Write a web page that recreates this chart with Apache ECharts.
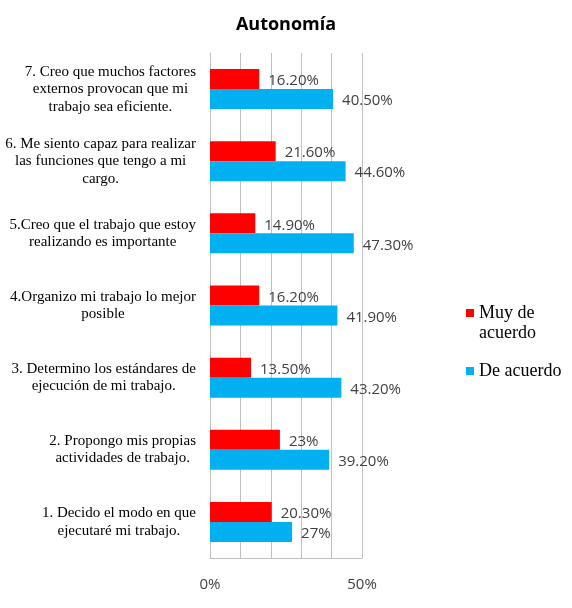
<!DOCTYPE html>
<html>
<head>
<meta charset="utf-8">
<title>Autonomía</title>
<script src="https://cdn.jsdelivr.net/npm/echarts@6/dist/echarts.min.js"></script>
<style>
  html, body { margin: 0; padding: 0; background: #fff; }
  #mychart { width: 572px; height: 608px; }
</style>
</head>
<body>
<div id="mychart"></div>
<script>
// datos del grafico
var categories = [
  '1. Decido el modo en que\nejecutaré mi trabajo.',
  '2. Propongo mis propias\nactividades de trabajo.',
  '3. Determino los estándares de\nejecución de mi trabajo.',
  '4.Organizo mi trabajo lo mejor\nposible',
  '5.Creo que el trabajo que estoy\nrealizando es importante',
  '6. Me siento capaz para realizar\nlas funciones que tengo a mi\ncargo.',
  '7. Creo que muchos factores\nexternos provocan que mi\ntrabajo sea eficiente.'
];
var muyDeAcuerdo = [20.3, 23, 13.5, 16.2, 14.9, 21.6, 16.2];
var deAcuerdo = [27, 39.2, 43.2, 41.9, 47.3, 44.6, 40.5];
var xTickLabels = [0, 50];

var Chart = echarts.init(document.getElementById('mychart'), null, { renderer: 'canvas' });

// 23 -> 23%, 20.3 -> 20.30%
function pct(v) {
  return (v % 1 === 0 ? v : v.toFixed(2)) + '%';
}

var labelStyle = {
  show: true,
  position: 'right',
  distance: 9,
  offset: [0, 2],
  color: '#404040',
  fontFamily: 'Open Sans',
  fontSize: 15,
  formatter: function (p) { return pct(p.value); }
};

var option = {
  animation: false,
  title: {
    text: 'Autonomía',
    left: 'center',
    top: 11,
    textStyle: { fontFamily: 'Open Sans', fontWeight: 'bold', fontSize: 18, color: '#000' }
  },
  legend: {
    orient: 'vertical',
    left: 461,
    top: 278,
    itemWidth: 8,
    itemHeight: 8,
    itemGap: 18,
    icon: 'rect',
    data: ['Muy de acuerdo', 'De acuerdo'],
    // linea vacia arriba para que el icono quede junto a la primera linea
    formatter: function (name) {
      return name === 'Muy de acuerdo' ? ' \nMuy de\nacuerdo' : name;
    },
    textStyle: { fontFamily: 'Liberation Serif', fontSize: 18, lineHeight: 20, color: '#000' }
  },
  grid: {
    left: 210,
    right: 210,
    top: 53,
    bottom: 50,
    containLabel: false
  },
  xAxis: {
    type: 'value',
    min: 0,
    max: 50,
    interval: 10,
    axisLine: { show: true, lineStyle: { color: '#bfbfbf' } },
    axisTick: { show: false },
    splitLine: { show: true, lineStyle: { color: '#bfbfbf' } },
    axisLabel: {
      margin: 19,
      color: '#404040',
      fontFamily: 'Open Sans',
      fontSize: 15,
      formatter: function (v) {
        return xTickLabels.indexOf(v) >= 0 ? v + '%' : '';
      }
    }
  },
  yAxis: {
    type: 'category',
    data: categories,
    axisLine: { show: true, lineStyle: { color: '#bfbfbf' } },
    axisTick: { show: false },
    axisLabel: {
      margin: 14,
      align: 'right',
      formatter: function (v) {
        return v.split('\n').map(function (l) { return '{c|' + l + '}'; }).join('\n');
      },
      rich: {
        c: {
          align: 'center',
          fontFamily: 'Liberation Serif',
          fontSize: 15,
          lineHeight: 17.5,
          color: '#000'
        }
      }
    }
  },
  series: [
    {
      name: 'Muy de acuerdo',
      type: 'bar',
      data: muyDeAcuerdo,
      barWidth: 20,
      barGap: '0%',
      barCategoryGap: '43%',
      itemStyle: { color: '#ff0000' },
      label: labelStyle
    },
    {
      name: 'De acuerdo',
      type: 'bar',
      data: deAcuerdo,
      barWidth: 20,
      barGap: '0%',
      itemStyle: { color: '#00b0f0' },
      label: labelStyle
    }
  ]
};

Chart.setOption(option);
</script>
</body>
</html>
